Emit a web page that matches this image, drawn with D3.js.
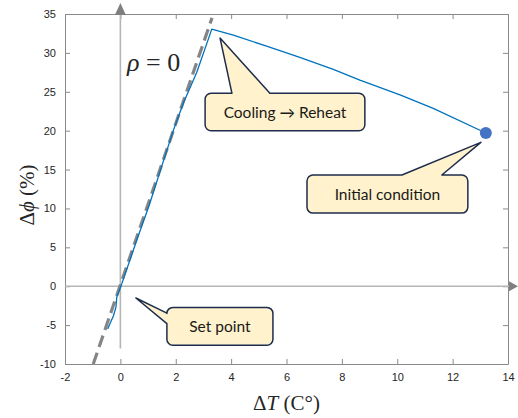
<!DOCTYPE html>
<html>
<head>
<meta charset="utf-8">
<script src="https://cdn.jsdelivr.net/npm/d3@7"></script>
<style>
  body { margin: 0; background: #fff; }
  svg { display: block; }
</style>
</head>
<body>
<div id="chart"></div>
<script>
// trajectory of the controlled state, from the initial condition to the set point
var trajX = [13.20, 11.30, 10.10, 8.65, 7.69, 6.48, 5.28, 4.08, 3.30, 3.18, 2.76, 2.28, 1.92, 1.50, 1.05, 0.59, 0.05, -0.13, -0.16, -0.25, -0.46];
var trajY = [19.7, 22.86, 24.61, 26.5, 27.88, 29.42, 30.87, 32.29, 33.06, 31.8, 27.5, 23.6, 20.1, 15.5, 10.5, 5.9, 0.3, -1.4, -2.7, -3.8, -5.5];

// rho = 0 line
var rhoX = [-0.98, 3.31];
var rhoY = [-10, 34.5];

var xTicks = [-2, 0, 2, 4, 6, 8, 10, 12, 14];
var yTicks = [-10, -5, 0, 5, 10, 15, 20, 25, 30, 35];

// callouts: text, tip, box [x0, x1, yTop, yBottom], pointer base on a side
var noteText = ["Cooling \u2192 Reheat", "Initial condition", "Set point"];
var noteTip = [[3.6, 31.9], [13.02, 18.5], [0.56, -1.52]];
var noteBox = [[3.06, 8.83, 24.8, 20.0], [6.74, 12.55, 14.3, 9.4], [1.68, 5.51, -2.72, -7.6]];
var noteSide = ["top", "top", "left"];
var noteBase = [[4.03, 5.40], [10.17, 11.61], [-3.45, -4.8]];

var W = 518, H = 418;
var margin = {top: 14, right: 10, bottom: 54, left: 65};
var width = W - margin.left - margin.right;
var height = H - margin.top - margin.bottom;

var svg = d3.select("#chart").append("svg")
    .attr("width", W).attr("height", H);

var x = d3.scaleLinear().domain([-2, 14]).range([margin.left, margin.left + width]);
var y = d3.scaleLinear().domain([-10, 35]).range([margin.top + height, margin.top]);

var fmt = function(d) { return String(d); };

//axes box with inward ticks
var g = svg.append("g");
g.append("g")
  .attr("transform", "translate(0," + y(-10) + ")")
  .call(d3.axisBottom(x).tickValues(xTicks).tickFormat(fmt).tickSizeInner(-5).tickSizeOuter(0).tickPadding(9));
g.append("g")
  .attr("transform", "translate(" + x(-2) + ",0)")
  .call(d3.axisLeft(y).tickValues(yTicks).tickFormat(fmt).tickSizeInner(-5).tickSizeOuter(0).tickPadding(9));
g.append("g")
  .attr("transform", "translate(0," + y(35) + ")")
  .call(d3.axisTop(x).tickValues(xTicks).tickSizeInner(-5).tickSizeOuter(0).tickFormat(""));
g.append("g")
  .attr("transform", "translate(" + x(14) + ",0)")
  .call(d3.axisRight(y).tickValues(yTicks).tickSizeInner(-5).tickSizeOuter(0).tickFormat(""));
g.selectAll(".domain, .tick line").attr("stroke", "#8a8a8a");
g.selectAll(".tick text")
  .attr("fill", "#262626")
  .style("font-family", "'Liberation Sans', Arial, sans-serif")
  .style("font-size", "11px");

//gray coordinate axes with arrow heads
var axCol = "#b5b5b5", headCol = "#7f7f7f";
svg.append("line")
  .attr("x1", x(0)).attr("x2", x(0))
  .attr("y1", y(-8)).attr("y2", y(35) - 2)
  .attr("stroke", axCol).attr("stroke-width", 1.6);
svg.append("path")
  .attr("d", "M" + x(0) + "," + (y(35) - 11) + " L" + (x(0) + 5.5) + "," + (y(35) + 1) + " L" + (x(0) - 5.5) + "," + (y(35) + 1) + " Z")
  .attr("fill", headCol);
svg.append("line")
  .attr("x1", x(-2)).attr("x2", x(14) + 2)
  .attr("y1", y(0)).attr("y2", y(0))
  .attr("stroke", axCol).attr("stroke-width", 1.6);
svg.append("path")
  .attr("d", "M" + (x(14) + 10) + "," + y(0) + " L" + (x(14) + 1) + "," + (y(0) - 5) + " L" + (x(14) + 1) + "," + (y(0) + 5) + " Z")
  .attr("fill", headCol);

//rho = 0 dashed line
svg.append("line")
  .attr("x1", x(rhoX[0])).attr("y1", y(rhoY[0]))
  .attr("x2", x(rhoX[1])).attr("y2", y(rhoY[1]))
  .attr("stroke", "#858585").attr("stroke-width", 3.2)
  .attr("stroke-dasharray", "12,6");

//trajectory
var traj = trajX.map(function(d, i) { return [d, trajY[i]]; });
var line = d3.line()
  .x(function(d) { return x(d[0]); })
  .y(function(d) { return y(d[1]); });
svg.append("path")
  .datum(traj)
  .attr("d", line)
  .attr("fill", "none")
  .attr("stroke", "#0072bd")
  .attr("stroke-width", 1.3)
  .attr("stroke-linejoin", "round");

svg.append("circle")
  .attr("cx", x(trajX[0])).attr("cy", y(trajY[0]))
  .attr("r", 6)
  .attr("fill", "#4472c4");

//rho label
var rho = svg.append("text")
  .attr("x", 127).attr("y", 71)
  .style("font-family", "'Liberation Serif', 'DejaVu Serif', serif")
  .style("font-size", "26px")
  .attr("fill", "#262626");
rho.append("tspan").style("font-style", "italic").text("\u03c1");
rho.append("tspan").text(" = 0");

//callouts
function calloutPath(i) {
  var b = noteBox[i], r = 6;
  var x0 = x(b[0]), x1 = x(b[1]), y0 = y(b[2]), y1 = y(b[3]);
  var tx = x(noteTip[i][0]), ty = y(noteTip[i][1]);
  var p = d3.path();
  p.moveTo(x0 + r, y0);
  if (noteSide[i] == "top") {
    p.lineTo(x(noteBase[i][0]), y0);
    p.lineTo(tx, ty);
    p.lineTo(x(noteBase[i][1]), y0);
  }
  p.lineTo(x1 - r, y0);
  p.arcTo(x1, y0, x1, y0 + r, r);
  p.lineTo(x1, y1 - r);
  p.arcTo(x1, y1, x1 - r, y1, r);
  p.lineTo(x0 + r, y1);
  p.arcTo(x0, y1, x0, y1 - r, r);
  if (noteSide[i] == "left") {
    p.lineTo(x0, y(noteBase[i][1]));
    p.lineTo(tx, ty);
    p.lineTo(x0, y(noteBase[i][0]));
  }
  p.lineTo(x0, y0 + r);
  p.arcTo(x0, y0, x0 + r, y0, r);
  p.closePath();
  return p.toString();
}

noteText.forEach(function(t, i) {
  svg.append("path")
    .attr("d", calloutPath(i))
    .attr("fill", "#fff2cc")
    .attr("stroke", "#1e2d4d")
    .attr("stroke-width", 1.5)
    .attr("stroke-linejoin", "round");
  svg.append("text")
    .attr("x", (x(noteBox[i][0]) + x(noteBox[i][1])) / 2)
    .attr("y", (y(noteBox[i][2]) + y(noteBox[i][3])) / 2)
    .attr("dy", "0.36em")
    .attr("text-anchor", "middle")
    .attr("fill", "#1a1a1a")
    .style("font-family", "Lato, 'Open Sans', sans-serif")
    .style("font-size", "15.5px")
    .text(t);
});

//axis labels
var xl = svg.append("text")
  .attr("x", (x(-2) + x(14)) / 2).attr("y", 410)
  .attr("text-anchor", "middle")
  .attr("fill", "#262626")
  .style("font-family", "'Liberation Serif', 'DejaVu Serif', serif")
  .style("font-size", "21px");
xl.append("tspan").text("\u0394");
xl.append("tspan").style("font-style", "italic").text("T");
xl.append("tspan").text(" (C\u00b0)");

var yl = svg.append("text")
  .attr("transform", "translate(34," + 195 + ") rotate(-90)")
  .attr("text-anchor", "middle")
  .attr("fill", "#262626")
  .style("font-family", "'Liberation Serif', 'DejaVu Serif', serif")
  .style("font-size", "21px");
yl.append("tspan").text("\u0394");
yl.append("tspan").style("font-style", "italic").text("\u03d5");
yl.append("tspan").text(" (%)");
</script>
</body>
</html>
